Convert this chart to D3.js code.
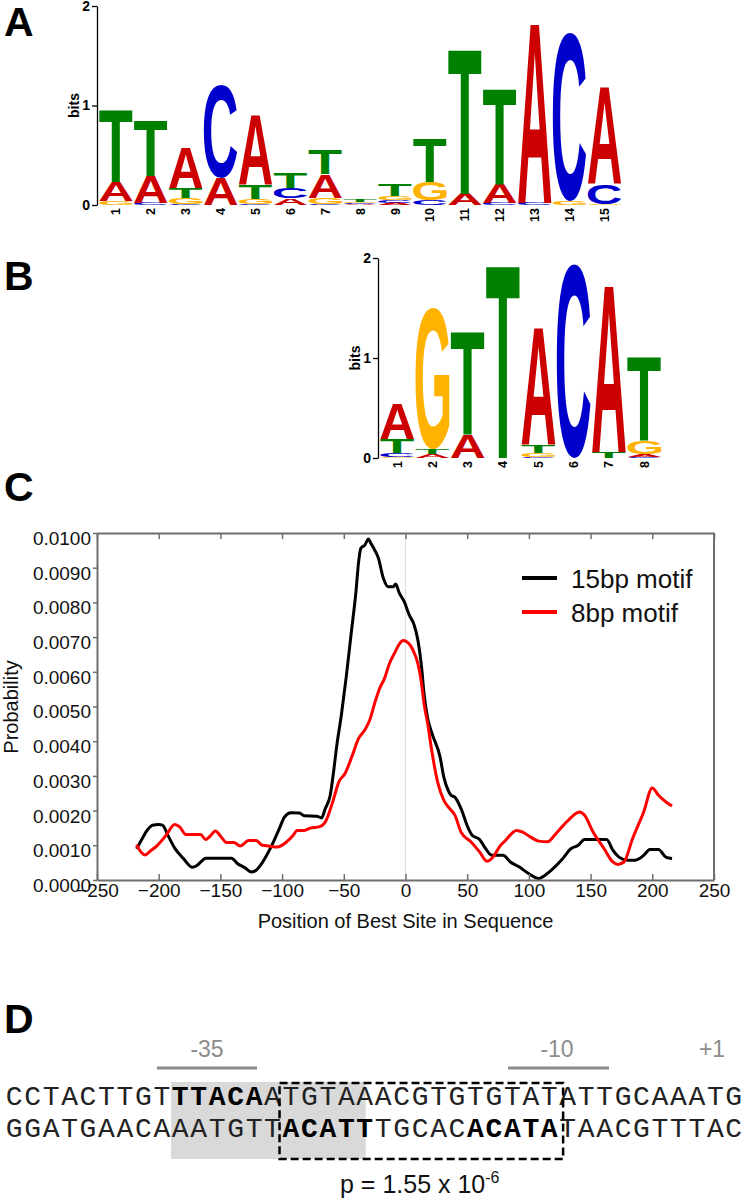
<!DOCTYPE html>
<html><head><meta charset="utf-8">
<script src="https://cdn.jsdelivr.net/npm/d3@7"></script>
<style>body{margin:0;background:#fff} svg{display:block}</style>
</head><body>
<svg id="c" width="746" height="1200"></svg>
<script>
// ---------- DATA ----------
// Panel A: 15bp motif information content per base (bits)
const logoA_A = [0.19,0.27,0.41,0.27,0.71,0.07,0.24,0.008,0.02,0,0.11,0.19,1.82,0,0.98];
const logoA_C = [0,0.02,0.01,0.94,0.01,0.10,0.01,0.012,0.03,0.05,0,0.02,0.02,1.70,0.20];
const logoA_G = [0.04,0,0.06,0,0.05,0,0.06,0.014,0.04,0.18,0,0,0,0.04,0.01];
const logoA_T = [0.73,0.56,0.10,0,0.14,0.15,0.25,0.03,0.12,0.44,1.46,0.97,0,0,0];
// Panel B: 8bp motif
const logoB_A = [0.35,0.04,0.23,0,1.18,0,1.67,0.03];
const logoB_C = [0.04,0,0,0,0.01,1.94,0,0.01];
const logoB_G = [0.01,1.41,0,0,0.04,0,0,0.13];
const logoB_T = [0.14,0.05,1.04,1.94,0.08,0,0.06,0.85];
const logoTicks = [0,1,2];

// Panel C: probability of best-site position
const pos15 = [-218,-214,-210,-205,-200,-197,-192,-187,-180,-173,-169,-165,-162,-150,-141,-136,-130,-125,-121,-117,-114,-107,-102,-98,-93,-86,-82,-72,-68,-65,-61,-58,-56,-52,-48,-44,-40,-38,-36,-33,-30,-28,-25,-22,-18,-14,-10,-8,-5,-1,3,7,10,13,15,18,22,28,31,35,37,40,45,51,54,60,65,70,79,85,92,100,108,111,118,127,134,140,145,156,163,168,173,180,186,193,198,205,211,216];
const prob15 = [0.00090,0.00115,0.00140,0.00158,0.00160,0.00158,0.00125,0.00092,0.00062,0.00037,0.00042,0.00055,0.00063,0.00063,0.00063,0.00047,0.00035,0.00023,0.00028,0.00045,0.00062,0.00110,0.00150,0.00182,0.00194,0.00193,0.00185,0.00184,0.00179,0.00206,0.00244,0.00320,0.00379,0.00475,0.00586,0.00711,0.00836,0.00917,0.00957,0.00965,0.00983,0.00970,0.00951,0.00928,0.00870,0.00845,0.00845,0.00853,0.00827,0.00802,0.00764,0.00735,0.00692,0.00615,0.00538,0.00465,0.00417,0.00355,0.00297,0.00255,0.00244,0.00239,0.00206,0.00148,0.00129,0.00117,0.00090,0.00071,0.00071,0.00052,0.00038,0.00018,0.00004,0.00009,0.00028,0.00060,0.00090,0.00100,0.00117,0.00117,0.00117,0.00086,0.00066,0.00057,0.00057,0.00071,0.00088,0.00088,0.00066,0.00062];
const pos8 = [-218,-214,-211,-207,-201,-194,-187,-183,-178,-166,-162,-159,-154,-150,-145,-139,-134,-127,-121,-116,-111,-104,-97,-91,-88,-82,-77,-70,-65,-59,-54,-49,-43,-38,-33,-29,-25,-21,-17,-13,-9,-5,-2,2,6,10,13,15,18,21,26,31,36,40,45,53,60,66,72,76,81,90,95,100,108,115,122,131,141,145,152,161,168,172,177,184,193,200,205,211,216];
const prob8 = [0.00102,0.00079,0.00072,0.00083,0.00100,0.00129,0.00160,0.00153,0.00131,0.00131,0.00117,0.00124,0.00141,0.00127,0.00108,0.00108,0.00098,0.00114,0.00114,0.00100,0.00098,0.00095,0.00108,0.00129,0.00143,0.00143,0.00150,0.00153,0.00167,0.00225,0.00283,0.00307,0.00360,0.00408,0.00432,0.00461,0.00509,0.00552,0.00581,0.00624,0.00653,0.00680,0.00690,0.00684,0.00663,0.00624,0.00567,0.00509,0.00450,0.00379,0.00283,0.00230,0.00205,0.00187,0.00138,0.00110,0.00081,0.00054,0.00071,0.00095,0.00114,0.00143,0.00138,0.00127,0.00112,0.00110,0.00134,0.00169,0.00196,0.00187,0.00138,0.00090,0.00052,0.00045,0.00052,0.00119,0.00196,0.00265,0.00244,0.00225,0.00213];
const xTicksC = [-250,-200,-150,-100,-50,0,50,100,150,200,250];
const yTicksC = [0,0.001,0.002,0.003,0.004,0.005,0.006,0.007,0.008,0.009,0.010];
const seriesNames = ["15bp motif","8bp motif"];

// Panel D: promoter sequence
const seqTop    = "CCTACTTGTTTACAATGTAAACGTGTGTATATTGCAAATG";
const seqBottom = "GGATGAACAAATGTTACATTTGCACACATATAACGTTTAC";
const boldTop = [[9,14]];
const boldBottom = [[15,20],[25,30]];
const promoterLabels = ["-35","-10","+1"];

// ---------- DRAW ----------
const svg = d3.select("#c");
const sans = '"Liberation Sans", Arial, Helvetica, sans-serif';
const mono = '"Courier New", "Nimbus Mono PS", "Nimbus Mono L", FreeMono, "Liberation Mono", monospace';

// panel letters
[["A",36],["B",290],["C",501],["D",1033]].forEach(([t,y])=>{
  svg.append("text").attr("x",4).attr("y",y).attr("font-family",sans).attr("font-weight","bold")
    .attr("font-size",41).attr("fill","#000").text(t);
});

// ---- logos ----
const baseColor = {A:"#CC0000",C:"#0000CC",G:"#FFB300",T:"#008000"};
const mctx = document.createElement("canvas").getContext("2d");
mctx.font = `bold 100px ${sans}`;
const inkBox = {};
["A","C","G","T"].forEach(b=>{
  const m = mctx.measureText(b);
  inkBox[b] = {l:m.actualBoundingBoxLeft, r:m.actualBoundingBoxRight, a:m.actualBoundingBoxAscent, d:m.actualBoundingBoxDescent};
});

function drawLogo(data, x, y, axisX, labelY){
  const g = svg.append("g");
  const n = data.A.length;
  for(let i=0;i<n;i++){
    const stack = ["A","C","G","T"].map(b=>({b,h:data[b][i]})).filter(d=>d.h>0).sort((p,q)=>p.h-q.h);
    let base = 0;
    stack.forEach(s=>{
      const x0 = x(i+1), w = x.bandwidth();
      const yTop = y(base+s.h), hpx = y(base)-yTop;
      const ib = inkBox[s.b];
      const sx = w/(ib.l+ib.r), sy = hpx/(ib.a+ib.d);
      g.append("text")
        .attr("transform",`translate(${x0},${yTop}) scale(${sx},${sy}) translate(${ib.l},${ib.a})`)
        .attr("font-family",sans).attr("font-weight","bold").attr("font-size",100)
        .attr("fill",baseColor[s.b]).text(s.b);
      base += s.h;
    });
    const cx = x(i+1)+x.bandwidth()/2;
    g.append("text").attr("transform",`translate(${cx},${labelY}) rotate(-90)`)
      .attr("text-anchor","end").attr("dy","0.35em")
      .attr("font-family",sans).attr("font-weight","bold").attr("font-size",12.5).text(i+1);
  }
  const ax = svg.append("g").attr("transform",`translate(${axisX},0)`)
    .call(d3.axisLeft(y).tickValues(logoTicks).tickFormat(d3.format("d")).tickSize(5).tickSizeOuter(0).tickPadding(2));
  ax.select(".domain").attr("stroke","#000").attr("stroke-width",1.3);
  ax.selectAll(".tick line").attr("stroke","#000").attr("stroke-width",1.3);
  ax.selectAll(".tick text").attr("font-family",sans).attr("font-weight","bold").attr("font-size",14).attr("fill","#000");
  svg.append("text").attr("transform",`translate(${axisX-23},${(y(0)+y(2))/2}) rotate(-90)`)
    .attr("text-anchor","middle").attr("dy","0.35em")
    .attr("font-family",sans).attr("font-weight","bold").attr("font-size",14).text("bits");
}

const xA = d3.scaleBand().domain(d3.range(1,16)).range([98.5,622]).paddingInner(0.04).paddingOuter(0.02);
const yA = d3.scaleLinear().domain([0,2]).range([205,6]);
drawLogo({A:logoA_A,C:logoA_C,G:logoA_G,T:logoA_T}, xA, yA, 97, 208);

const xB = d3.scaleBand().domain(d3.range(1,9)).range([379.5,662]).paddingInner(0.04).paddingOuter(0.02);
const yB = d3.scaleLinear().domain([0,2]).range([458,258]);
drawLogo({A:logoB_A,C:logoB_C,G:logoB_G,T:logoB_T}, xB, yB, 378, 461);

// ---- panel C ----
const xC = d3.scaleLinear().domain([-250,250]).range([97,714]);
const yC = d3.scaleLinear().domain([0,0.01]).range([880,533]);
const gridCol = "#6e6e6e";

svg.append("line").attr("x1",xC(0)).attr("x2",xC(0)).attr("y1",yC(0.01)).attr("y2",yC(0))
  .attr("stroke","#e0e0e0").attr("stroke-width",1.2);

const line = d3.line().x(d=>xC(d[0])).y(d=>yC(d[1])).curve(d3.curveMonotoneX);
svg.append("path").datum(pos15.map((p,i)=>[p,prob15[i]])).attr("d",line)
  .attr("fill","none").attr("stroke","#000").attr("stroke-width",3).attr("stroke-linejoin","round");
svg.append("path").datum(pos8.map((p,i)=>[p,prob8[i]])).attr("d",line)
  .attr("fill","none").attr("stroke","#ff0000").attr("stroke-width",3).attr("stroke-linejoin","round");

// frame
svg.append("line").attr("x1",xC(250)).attr("x2",xC(250)).attr("y1",yC(0.01)).attr("y2",yC(0))
  .attr("stroke",gridCol).attr("stroke-width",2);
const axTop = svg.append("g").attr("transform",`translate(0,${yC(0.01)})`)
  .call(d3.axisTop(xC).tickValues(xTicksC).tickSize(-6).tickSizeOuter(0).tickFormat(""));
const axBot = svg.append("g").attr("transform",`translate(0,${yC(0)})`)
  .call(d3.axisBottom(xC).tickValues(xTicksC).tickSize(-6).tickSizeOuter(0).tickPadding(3).tickFormat(d3.format("d")));
const axLeft = svg.append("g").attr("transform",`translate(${xC(-250)},0)`)
  .call(d3.axisLeft(yC).tickValues(yTicksC).tickSize(4).tickSizeOuter(0).tickPadding(2).tickFormat(d3.format(".4f")));
[axTop,axBot,axLeft].forEach(a=>{
  a.select(".domain").attr("stroke",gridCol).attr("stroke-width",2);
  a.selectAll(".tick line").attr("stroke",gridCol).attr("stroke-width",1.5);
  a.selectAll(".tick text").attr("font-family",sans).attr("font-size",19).attr("fill","#111");
});
axLeft.selectAll(".tick text").attr("dy","0.6em");
axBot.selectAll(".tick text").attr("dy","0.72em");

svg.append("text").attr("x",xC(0)).attr("y",928).attr("text-anchor","middle")
  .attr("font-family",sans).attr("font-size",20).attr("fill","#111").text("Position of Best Site in Sequence");
svg.append("text").attr("transform","translate(11,707) rotate(-90)").attr("text-anchor","middle").attr("dy","0.35em")
  .attr("font-family",sans).attr("font-size",20).attr("fill","#111").text("Probability");

// legend
const legCols = ["#000","#ff0000"];
seriesNames.forEach((nm,i)=>{
  const yy = 578 + i*34;
  svg.append("line").attr("x1",522).attr("x2",557).attr("y1",yy).attr("y2",yy)
    .attr("stroke",legCols[i]).attr("stroke-width",4);
  svg.append("text").attr("x",571).attr("y",yy+10).attr("font-family",sans).attr("font-size",26)
    .attr("fill","#111").text(nm);
});

// ---- panel D ----
const xD = d3.scaleLinear().domain([0,40]).range([5,743]);
const cw = xD(1)-xD(0);
svg.append("rect").attr("x",xD(9)).attr("y",1082).attr("width",xD(19.55)-xD(9)).attr("height",77)
  .attr("fill","#d9d9d9");
function drawSeq(seq, bolds, yb){
  const g = svg.append("g");
  seq.split("").forEach((ch,i)=>{
    const isBold = bolds.some(([a,b])=>i>=a && i<b);
    g.append("text").attr("x",xD(i)+cw/2).attr("y",yb).attr("text-anchor","middle")
      .attr("font-family",mono).attr("font-size",28).attr("font-weight",isBold?"bold":"normal")
      .attr("fill",isBold?"#000":"#222").text(ch);
  });
}
drawSeq(seqTop, boldTop, 1105);
drawSeq(seqBottom, boldBottom, 1137);
svg.append("rect").attr("x",xD(14.88)).attr("y",1083).attr("width",xD(30.25)-xD(14.88)).attr("height",76)
  .attr("fill","none").attr("stroke","#000").attr("stroke-width",2.5).attr("stroke-dasharray","8,4");

const labPos = [[207,157,257],[557,508,609],[712,null,null]];
promoterLabels.forEach((t,i)=>{
  const [cx,a,b] = labPos[i];
  svg.append("text").attr("x",cx).attr("y",1057).attr("text-anchor","middle")
    .attr("font-family",sans).attr("font-size",23).attr("fill","#8c8c8c").text(t);
  if(a!==null) svg.append("line").attr("x1",a).attr("x2",b).attr("y1",1068).attr("y2",1068)
    .attr("stroke","#8c8c8c").attr("stroke-width",3);
});
const pt = svg.append("text").attr("x",340).attr("y",1193).attr("font-family",sans).attr("font-size",25).attr("fill","#111");
pt.append("tspan").text("p = 1.55 x 10");
pt.append("tspan").attr("dy",-10).attr("font-size",16).text("-6");
</script></body></html>
